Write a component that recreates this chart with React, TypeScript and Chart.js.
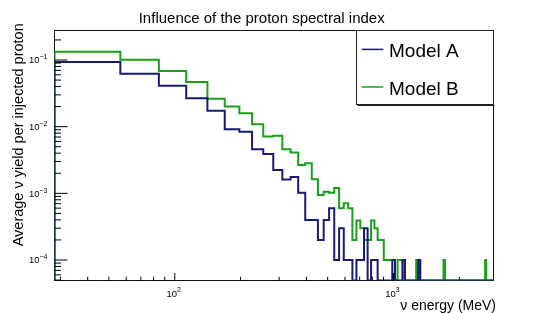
import React, { useEffect, useRef } from "react";
import { Chart, registerables } from "chart.js";

Chart.register(...registerables);

const FONT = '"Liberation Sans", Arial, Helvetica, sans-serif';

const TITLE = "Influence of the proton spectral index";
const X_TITLE = "\u03bd energy (MeV)";
const Y_TITLE = "Average \u03bd yield per injected proton";
const SERIES_NAMES = ["Model A", "Model B"];
const SERIES_COLORS = ["#1a1a72", "#18a018"];

// Linear energy bins (MeV); the first visible bin starts at one bin width.
const BIN_WIDTH = 28.2;
const N_BINS = 101;
const X_MIN = 28.2;
const X_MAX = 2864;
const Y_MIN = 4.93e-5;
const Y_MAX = 0.277;

// Bin contents, bin 1 = [BIN_WIDTH, 2*BIN_WIDTH]; bins beyond the list are empty.
const MODEL_A: number[] = [
  0.0933, 0.0624, 0.0412, 0.0267, 0.0174, 0.00915, 0.0084, 0.00457, 0.0039, 0.00224,
  0.00162, 0.00176, 0.00102, 0.0004, 0.0004, 0.0002, 0.0004, 0.0006, 0.0001, 0.0003,
  0.0001, 0.0001, 0, 0.0001, 0.0001, 0.0003, 0, 0.0001, 0.0001, 0,
  0, 0, 0, 0, 0.0001, 0, 0, 0, 0.0001, 0,
  0, 0, 0, 0, 0, 0.0001,
];

const MODEL_B: number[] = [
  0.133, 0.101, 0.0684, 0.0468, 0.0263, 0.02, 0.0159, 0.01086, 0.0071, 0.0073,
  0.00457, 0.0041, 0.00267, 0.00282, 0.00163, 0.000946, 0.00106, 0.00102, 0.0012, 0.0006,
  0.00071, 0.0006, 0.0002, 0.00039, 0.0003, 0.0002, 0.0002, 0.00039, 0.0003, 0.0002,
  0.0002, 0.0001, 0.0001, 0.0001, 0.0001, 0, 0.0001, 0.0001, 0, 0,
  0, 0, 0, 0, 0.0001, 0, 0, 0, 0, 0,
  0, 0, 0, 0, 0, 0, 0, 0, 0, 0.0001,
  0, 0, 0, 0, 0, 0, 0, 0, 0, 0,
  0, 0, 0, 0, 0, 0, 0, 0, 0, 0,
  0, 0, 0, 0, 0, 0, 0, 0, 0, 0,
  0, 0, 0.0001,
];

const X_LABEL_EXPONENTS = [2, 3];
const Y_LABEL_EXPONENTS = [-1, -2, -3, -4];

function histPoints(vals: number[]) {
  const pts: { x: number; y: number }[] = [{ x: BIN_WIDTH, y: Y_MIN }];
  for (let i = 0; i < N_BINS; i++) {
    const v = vals[i] ?? 0;
    pts.push({ x: BIN_WIDTH * (i + 1), y: v > 0 ? v : Y_MIN });
  }
  pts.push({ x: BIN_WIDTH * (N_BINS + 1), y: Y_MIN });
  return pts;
}

function drawPow(
  ctx: CanvasRenderingContext2D,
  exp: number,
  x: number,
  align: "right" | "center",
  baseY: number,
  supY: number
) {
  ctx.font = `9.5px ${FONT}`;
  const wb = ctx.measureText("10").width;
  const sup = exp < 0 ? "\u2212" + Math.abs(exp) : String(exp);
  ctx.font = `7px ${FONT}`;
  const ws = ctx.measureText(sup).width;
  const total = wb + ws;
  const x0 = align === "right" ? x - total : x - total / 2;
  ctx.textAlign = "left";
  ctx.textBaseline = "alphabetic";
  ctx.font = `9.5px ${FONT}`;
  ctx.fillText("10", x0, baseY);
  ctx.font = `7px ${FONT}`;
  ctx.fillText(sup, x0 + wb, supY);
}

const rootStyle = {
  id: "rootStyle",
  beforeDatasetsDraw(chart: any) {
    const { ctx, chartArea: a } = chart;
    ctx.save();
    ctx.strokeStyle = "#111";
    ctx.lineWidth = 1;
    ctx.strokeRect(a.left, a.top, a.right - a.left, a.bottom - a.top);
    ctx.restore();
  },
  afterDatasetsDraw(chart: any) {
    const { ctx, chartArea: a } = chart;
    const xs = chart.scales.x;
    const ys = chart.scales.y;
    ctx.save();
    ctx.strokeStyle = "#000";
    ctx.lineWidth = 1;
    ctx.beginPath();
    for (let d = -6; d <= 1; d++) {
      for (let m = 1; m <= 9; m++) {
        const v = m * Math.pow(10, d);
        if (v < Y_MIN || v > Y_MAX) continue;
        const py = ys.getPixelForValue(v);
        const len = m === 1 ? 13 : 6.5;
        ctx.moveTo(a.left, py);
        ctx.lineTo(a.left + len, py);
      }
    }
    for (let d = 1; d <= 4; d++) {
      for (let m = 1; m <= 9; m++) {
        const v = m * Math.pow(10, d);
        if (v < X_MIN || v > X_MAX) continue;
        const px = xs.getPixelForValue(v);
        const len = m === 1 ? 7.5 : 3.75;
        ctx.moveTo(px, a.bottom);
        ctx.lineTo(px, a.bottom - len);
      }
    }
    ctx.stroke();

    ctx.fillStyle = "#000";
    for (const e of Y_LABEL_EXPONENTS) {
      const py = ys.getPixelForValue(Math.pow(10, e));
      drawPow(ctx, e, 47.5, "right", py + 3.3, py - 0.7);
    }
    for (const e of X_LABEL_EXPONENTS) {
      const px = xs.getPixelForValue(Math.pow(10, e));
      drawPow(ctx, e, px - 1, "center", 296.7, 291.6);
    }

    // title
    ctx.font = `15px ${FONT}`;
    ctx.textAlign = "center";
    ctx.textBaseline = "alphabetic";
    ctx.fillText(TITLE, 261.7, 22.5);

    // x title
    ctx.font = `14px ${FONT}`;
    ctx.textAlign = "right";
    ctx.fillText(X_TITLE, 496, 310);

    // y title
    ctx.save();
    ctx.translate(22.7, 23.3);
    ctx.rotate(-Math.PI / 2);
    ctx.font = `14.5px ${FONT}`;
    ctx.textAlign = "right";
    ctx.fillText(Y_TITLE, 0, 0);
    ctx.restore();

    // legend
    const lx = 356.5, ly = a.top, lw = a.right - 356.5, lh = 74;
    ctx.fillStyle = "#fff";
    ctx.fillRect(lx, ly, lw, lh);
    ctx.strokeStyle = "#222";
    ctx.lineWidth = 1;
    ctx.strokeRect(lx, ly, lw, lh);
    ctx.beginPath();
    ctx.moveTo(lx + 1, ly + lh + 1);
    ctx.lineTo(lx + lw + 1, ly + lh + 1);
    ctx.stroke();
    const ds = chart.data.datasets;
    const rows = [49.4, 87];
    const bases = [57.3, 94.8];
    ds.forEach((d: any, i: number) => {
      ctx.strokeStyle = d.borderColor;
      ctx.lineWidth = 1.5;
      ctx.beginPath();
      ctx.moveTo(361.7, rows[i]);
      ctx.lineTo(383.3, rows[i]);
      ctx.stroke();
      ctx.fillStyle = "#000";
      ctx.font = `19px ${FONT}`;
      ctx.textAlign = "left";
      ctx.fillText(d.label, 389, bases[i]);
    });
    ctx.restore();
  },
};

export default function App() {
  const ref = useRef<HTMLCanvasElement | null>(null);
  useEffect(() => {
    if (!ref.current) return;
    const chart = new Chart(ref.current, {
      type: "line",
      data: {
        datasets: [
          {
            label: SERIES_NAMES[0],
            data: histPoints(MODEL_A),
            borderColor: SERIES_COLORS[0],
            borderWidth: 2,
            pointRadius: 0,
            fill: false,
            stepped: "before",
            tension: 0,
          },
          {
            label: SERIES_NAMES[1],
            data: histPoints(MODEL_B),
            borderColor: SERIES_COLORS[1],
            borderWidth: 2,
            pointRadius: 0,
            fill: false,
            stepped: "before",
            tension: 0,
          },
        ],
      },
      options: {
        responsive: false,
        animation: false,
        devicePixelRatio: 1,
        events: [],
        layout: { padding: { left: 54.5, right: 54.5, top: 30.5, bottom: 32.5 } },
        plugins: {
          legend: { display: false },
          title: { display: false },
          tooltip: { enabled: false },
        },
        scales: {
          x: { type: "logarithmic", min: X_MIN, max: X_MAX, display: false },
          y: { type: "logarithmic", min: Y_MIN, max: Y_MAX, display: false },
        },
      },
      plugins: [rootStyle],
    } as any);
    return () => chart.destroy();
  }, []);
  return (
    <div style={{ position: "fixed", left: 0, top: 0, width: 548, height: 313, background: "#fff" }}>
      <canvas ref={ref} width={548} height={313} style={{ display: "block", width: 548, height: 313 }} />
    </div>
  );
}
